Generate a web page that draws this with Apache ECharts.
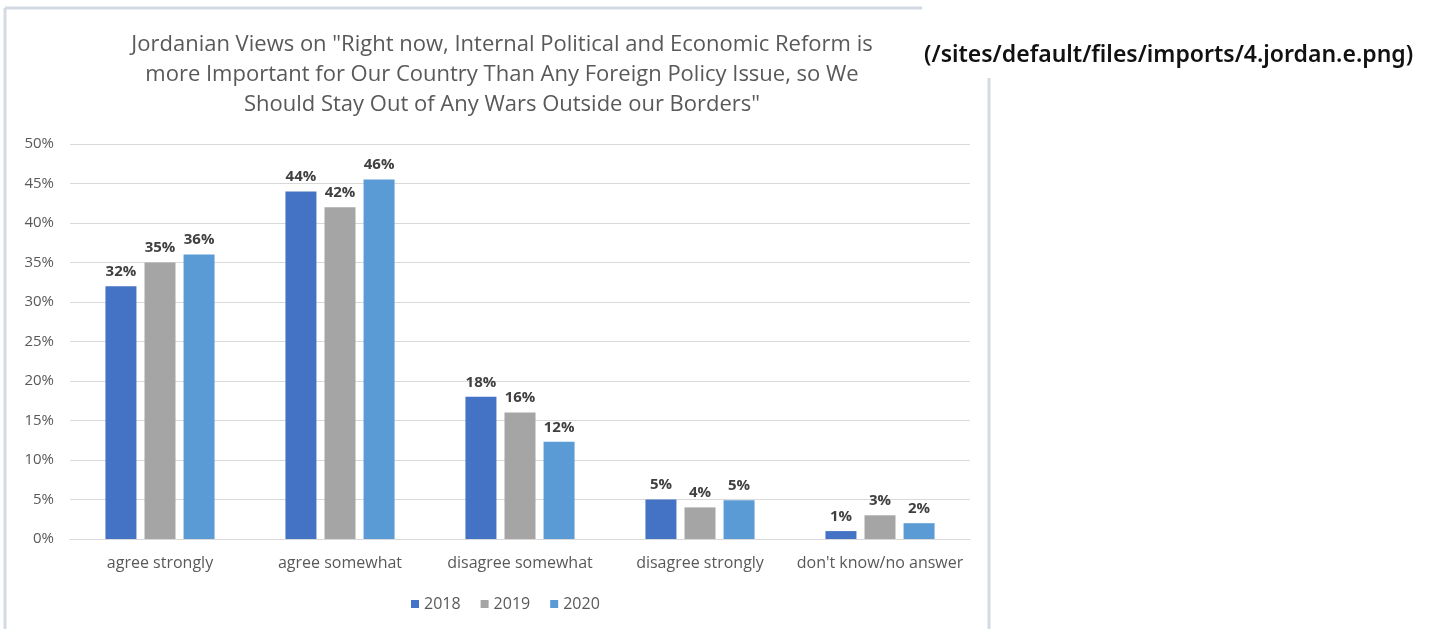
<!DOCTYPE html>
<html>
<head>
<meta charset="utf-8">
<script src="https://cdn.jsdelivr.net/npm/echarts@6/dist/echarts.min.js"></script>
<style>
  html, body { margin: 0; padding: 0; background: #fff; }
  #chart { width: 1442px; height: 629px; }
</style>
</head>
<body>
<div id="chart"></div>
<script>
var categories = ['agree strongly', 'agree somewhat', 'disagree somewhat', 'disagree strongly', "don't know/no answer"];
var years = ['2018', '2019', '2020'];
var values2018 = [32, 44, 18, 5, 1];
var values2019 = [35, 42, 16, 4, 3];
var values2020 = [36, 45.5, 12.3, 4.9, 2];
var yTicks = [0, 5, 10, 15, 20, 25, 30, 35, 40, 45, 50];
var colors = ['#4472C4', '#A5A5A5', '#5B9BD5'];

var myChart = echarts.init(document.getElementById('chart'));

function makeSeries(name, values, color) {
    return {
        name: name,
        type: 'bar',
        data: values,
        barWidth: 31,
        barGap: '26%',
        itemStyle: { color: color },
        label: {
            show: true,
            position: 'top',
            distance: 7,
            formatter: function (p) { return Math.round(p.value) + '%'; },
            color: '#404040',
            fontWeight: 'bold',
            fontSize: 15,
            fontFamily: 'Open Sans'
        }
    };
}

var option = {
    backgroundColor: '#fff',
    animation: false,
    title: {
        text: 'Jordanian Views on "Right now, Internal Political and Economic Reform is\nmore Important for Our Country Than Any Foreign Policy Issue, so We\nShould Stay Out of Any Wars Outside our Borders"',
        left: 497,
        top: 25,
        textAlign: 'center',
        textStyle: {
            color: '#595959',
            fontSize: 22,
            fontWeight: 'normal',
            fontFamily: 'Open Sans',
            lineHeight: 30
        }
    },
    legend: {
        data: years,
        bottom: 12,
        left: 406,
        itemWidth: 8,
        itemHeight: 8,
        itemGap: 20,
        icon: 'rect',
        textStyle: { color: '#595959', fontSize: 16, fontFamily: 'Open Sans' }
    },
    grid: { left: 70, right: 472, top: 144, bottom: 90 },
    xAxis: {
        type: 'category',
        data: categories,
        axisLine: { lineStyle: { color: '#d9d9d9' } },
        axisTick: { show: false },
        axisLabel: { interval: 0, color: '#595959', fontSize: 16, fontFamily: 'Open Sans', margin: 16 }
    },
    yAxis: {
        type: 'value',
        min: yTicks[0],
        max: yTicks[yTicks.length - 1],
        interval: 5,
        axisLine: { show: false },
        axisTick: { show: false },
        axisLabel: { formatter: '{value}%', color: '#595959', fontSize: 15, fontFamily: 'Open Sans', margin: 16 },
        splitLine: { lineStyle: { color: '#d9d9d9' } }
    },
    graphic: [
        { type: 'line', shape: { x1: 5, y1: 8, x2: 5, y2: 629 }, style: { stroke: '#d3dae2', lineWidth: 3 } },
        { type: 'line', shape: { x1: 5, y1: 8, x2: 922, y2: 8 }, style: { stroke: '#d3dae2', lineWidth: 3 } },
        { type: 'line', shape: { x1: 989, y1: 78, x2: 989, y2: 629 }, style: { stroke: '#d3dae2', lineWidth: 3 } },
        {
            type: 'text', left: 924, top: 44,
            style: { text: '(/sites/default/files/imports/4.jordan.e.png)', fill: '#111', fontSize: 23, fontWeight: 600, fontFamily: 'Noto Sans' }
        }
    ],
    series: [
        makeSeries(years[0], values2018, colors[0]),
        makeSeries(years[1], values2019, colors[1]),
        makeSeries(years[2], values2020, colors[2])
    ]
};

myChart.setOption(option);
</script>
</body>
</html>
